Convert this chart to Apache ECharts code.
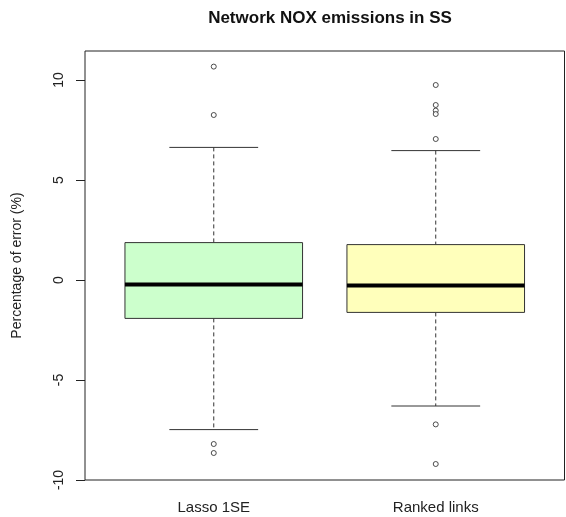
<!DOCTYPE html>
<html><head><meta charset="utf-8">
<script src="https://cdn.jsdelivr.net/npm/echarts@6/dist/echarts.min.js"></script>
<style>html,body{margin:0;padding:0;background:#fff}#c{width:566px;height:517px}</style>
</head><body><div id="c"></div>
<script>
const categories = ['Lasso 1SE', 'Ranked links'];
const positions = [1, 2];
const lowerWhisker = [-7.48, -6.30];
const q1 = [-1.92, -1.62];
const median = [-0.22, -0.27];
const q3 = [1.87, 1.77];
const upperWhisker = [6.63, 6.47];
const outliersLasso = [10.67, 8.25, -8.2, -8.65];
const outliersRanked = [9.75, 8.75, 8.47, 8.3, 7.05, -7.22, -9.2];
const yTicks = [-10, -5, 0, 5, 10];
const boxColors = ['#ccffcc', '#ffffbb'];

const boxData = positions.map((p, i) => [p, lowerWhisker[i], q1[i], median[i], q3[i], upperWhisker[i]]);
const outlierData = [].concat(
  outliersLasso.map(v => [positions[0], v]),
  outliersRanked.map(v => [positions[1], v])
);

function renderItem(params, api) {
  const x = api.value(0);
  const lo = api.coord([x, api.value(1)]);
  const b1 = api.coord([x, api.value(2)]);
  const md = api.coord([x, api.value(3)]);
  const b3 = api.coord([x, api.value(4)]);
  const hi = api.coord([x, api.value(5)]);
  const w = api.size([0.8, 0])[0];
  const cx = lo[0];
  const cap = w / 4;
  const dash = {stroke: '#333', lineWidth: 1, lineDash: [4, 3]};
  const solid = {stroke: '#333', lineWidth: 1};
  return {type: 'group', children: [
    {type: 'line', shape: {x1: cx, y1: hi[1], x2: cx, y2: b3[1]}, style: dash},
    {type: 'line', shape: {x1: cx, y1: b1[1], x2: cx, y2: lo[1]}, style: dash},
    {type: 'line', shape: {x1: cx - cap, y1: hi[1], x2: cx + cap, y2: hi[1]}, style: solid},
    {type: 'line', shape: {x1: cx - cap, y1: lo[1], x2: cx + cap, y2: lo[1]}, style: solid},
    {type: 'rect', shape: {x: cx - w / 2, y: b3[1], width: w, height: b1[1] - b3[1]},
      style: {fill: boxColors[params.dataIndex], stroke: '#333', lineWidth: 1}},
    {type: 'line', shape: {x1: cx - w / 2, y1: md[1], x2: cx + w / 2, y2: md[1]},
      style: {stroke: '#000', lineWidth: 4}}
  ]};
}

const chart = echarts.init(document.getElementById('c'), null, {renderer: 'canvas'});
chart.setOption({
  animation: false,
  backgroundColor: '#fff',
  title: {
    text: 'Network NOX emissions in SS',
    left: 325, top: 5, textAlign: 'center',
    textStyle: {fontFamily: 'Liberation Sans', fontSize: 17, fontWeight: 'bold', color: '#111'}
  },
  grid: {left: 85, right: 1.5, top: 51, bottom: 37, show: true, borderColor: '#222', borderWidth: 1, backgroundColor: 'transparent'},
  xAxis: {
    type: 'value', min: 0.42, max: 2.58,
    axisLine: {show: false},
    splitLine: {show: false},
    axisTick: {show: true, length: 9, lineStyle: {color: '#222'}, customValues: positions},
    axisLabel: {
      customValues: positions,
      formatter: v => categories[positions.indexOf(v)] || '',
      fontFamily: 'Liberation Sans', fontSize: 15, color: '#222', margin: 20
    }
  },
  yAxis: {
    type: 'value', min: -10, max: 11.45, interval: 5,
    name: 'Percentage of error (%)', nameLocation: 'middle', nameGap: 61,
    nameTextStyle: {fontFamily: 'Liberation Sans', fontSize: 14, color: '#222'},
    axisLine: {show: false},
    splitLine: {show: false},
    axisTick: {show: true, length: 9, lineStyle: {color: '#222'}, customValues: yTicks},
    axisLabel: {
      customValues: yTicks, rotate: 90,
      fontFamily: 'Liberation Sans', fontSize: 14, color: '#222', margin: 19
    }
  },
  series: [
    {type: 'custom', renderItem: renderItem, data: boxData, encode: {x: 0, y: [1, 2, 3, 4, 5]}, z: 2},
    {type: 'scatter', data: outlierData, symbol: 'circle', symbolSize: 5,
      itemStyle: {color: '#fff', borderColor: '#222', borderWidth: 1}, z: 3}
  ]
});
</script></body></html>
